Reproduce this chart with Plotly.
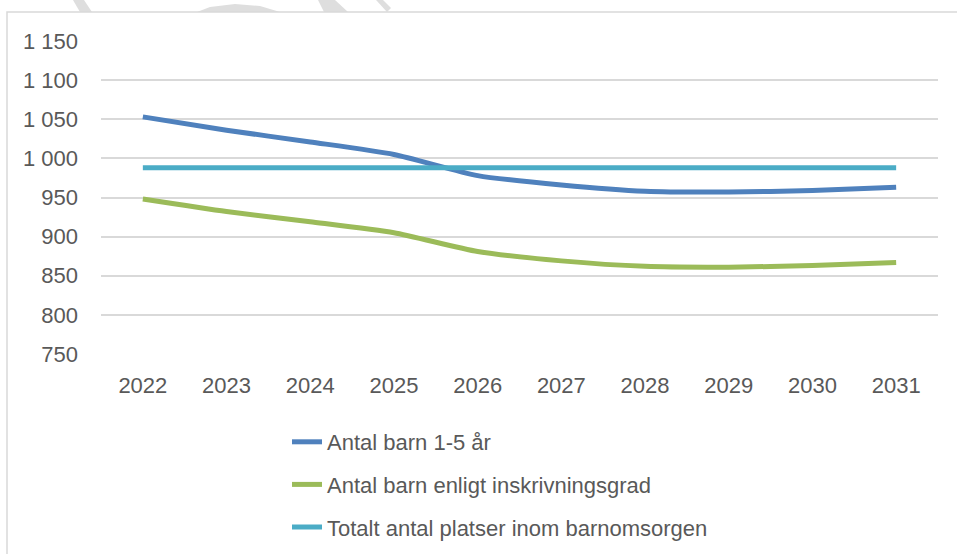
import plotly.graph_objects as go

years = ["2022", "2023", "2024", "2025", "2026", "2027", "2028", "2029", "2030", "2031"]
antal_barn = [1053, 1036, 1021, 1005, 978, 966, 958, 957, 959, 963]
inskrivningsgrad = [948, 932, 919, 905, 881, 869, 862, 861, 863, 867]
platser = [988, 988, 988, 988, 988, 988, 988, 988, 988, 988]
y_ticks = [750, 800, 850, 900, 950, 1000, 1050, 1100, 1150]
y_ticktext = ["750", "800", "850", "900", "950", "1 000", "1 050", "1 100", "1 150"]

W, H = 957, 554
L, R, T, B = 101, 938, 41, 354
FONT = "Liberation Sans"
FS = 22
TXT = "#595959"


def px(x, y):
    return (x - L) / (R - L), (B - y) / (B - T)


def path(points):
    s = ""
    for i, (x, y) in enumerate(points):
        a, b = px(x, y)
        s += ("M" if i == 0 else "L") + f"{a:.4f},{b:.4f} "
    return s + "Z"


fig = go.Figure()
series = [
    ("Antal barn 1-5 år", antal_barn, "#4F81BD"),
    ("Antal barn enligt inskrivningsgrad", inskrivningsgrad, "#9BBB59"),
    ("Totalt antal platser inom barnomsorgen", platser, "#4BACC6"),
]
for name, vals, col in series:
    fig.add_trace(go.Scatter(
        x=years, y=vals, name=name, mode="lines", legendgroup=name,
        line=dict(color=col, width=5, shape="spline", smoothing=0.6),
    ))

shapes = []
# watermark fragments above chart area
for pts in [
    [(73, 0), (84, 0), (92, 12), (80, 12)],
    [(197, 12), (210, 7), (235, 4), (260, 6), (280, 12)],
    [(318, 0), (335, 0), (348, 12), (324, 12)],
    [(376, 0), (383, 0), (391, 8), (387, 12)],
]:
    shapes.append(dict(type="path", xref="paper", yref="paper", path=path(pts),
                       fillcolor="#dedede", line=dict(width=0), layer="below"))
# chart area border
x0, y0 = px(7, 12)
x1, y1 = px(960, 560)
shapes.append(dict(type="rect", xref="paper", yref="paper", x0=x0, y0=y1, x1=x1, y1=y0,
                   fillcolor="rgba(0,0,0,0)", line=dict(color="#d9d9d9", width=1.5), layer="below"))

lx, ly = px(287, 421)
fig.update_layout(
    width=W, height=H,
    margin=dict(l=L, r=W - R, t=T, b=H - B, autoexpand=False),
    paper_bgcolor="white", plot_bgcolor="rgba(0,0,0,0)",
    font=dict(family=FONT, size=FS, color=TXT),
    shapes=shapes,
    showlegend=True,
    legend=dict(x=lx, y=ly, xanchor="left", yanchor="top", orientation="v",
                tracegroupgap=11, font=dict(family=FONT, size=FS, color=TXT),
                bgcolor="rgba(0,0,0,0)", itemwidth=30),
    xaxis=dict(type="category", range=[-0.5, 9.5], showgrid=False, zeroline=False,
               showline=False, ticks="", ticklabelstandoff=16,
               tickfont=dict(family=FONT, size=FS, color=TXT)),
    yaxis=dict(range=[750, 1150], tickvals=y_ticks, ticktext=y_ticktext,
               showgrid=True, gridcolor="#d9d9d9", gridwidth=1.5, zeroline=False,
               showline=False, ticks="", ticklabelstandoff=22,
               tickfont=dict(family=FONT, size=FS, color=TXT)),
)
fig.write_html("out.html", config={"displayModeBar": False},
               post_script="document.body.style.margin='0px';")
